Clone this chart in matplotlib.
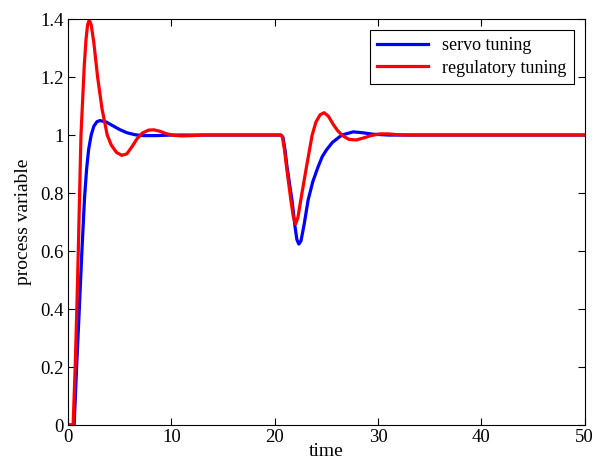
import matplotlib
matplotlib.use('Agg')
import matplotlib.pyplot as plt

# servo tuning response
t_servo = [0, 0.6, 0.84, 1.1, 1.35, 1.6, 1.8, 2.0, 2.25, 2.5, 2.8, 3.1, 3.7, 4.3, 5.0,
           5.7, 6.5, 7.3, 8.5, 10, 20.6, 20.8, 21.0, 21.2, 21.45, 21.7, 21.95, 22.15,
           22.34, 22.55, 22.86, 23.24, 23.7, 24.2, 24.6, 25.0, 25.6, 26.5, 27.6, 28.5,
           29.5, 31, 50]
y_servo = [0, 0, 0.2, 0.4, 0.6, 0.78, 0.88, 0.95, 1.0, 1.03, 1.046, 1.05, 1.045, 1.033, 1.019,
           1.008, 1.001, 0.998, 0.998, 1.0, 1.0, 0.993, 0.95, 0.89, 0.83, 0.77, 0.69, 0.64,
           0.624, 0.635, 0.693, 0.776, 0.84, 0.89, 0.925, 0.948, 0.975, 1.0, 1.011, 1.008,
           1.003, 1.0, 1.0]

# regulatory tuning response
t_reg = [0, 0.5, 0.7, 0.86, 1.0, 1.13, 1.26, 1.42, 1.58, 1.75, 1.9, 2.06, 2.25, 2.5,
         2.87, 3.3, 3.8, 4.2, 4.7, 5.2, 5.7, 6.2, 6.7, 7.2, 7.8, 8.3, 8.9, 9.5, 10.2,
         11, 12, 13,
         20.6, 20.75, 20.95, 21.15, 21.57, 21.8, 22.02, 22.25, 22.53, 23.08, 23.63,
         24.0, 24.4, 24.79, 25.2, 25.7, 26.1, 26.6, 27.2, 27.9, 28.6, 29.3, 30.2,
         31.0, 32.0, 33, 50]
y_reg = [0, 0, 0.2, 0.4, 0.6, 0.8, 1.0, 1.12, 1.24, 1.33, 1.38, 1.397, 1.38, 1.32,
         1.2, 1.09, 1.0, 0.965, 0.94, 0.93, 0.935, 0.96, 0.988, 1.007, 1.017, 1.018, 1.013, 1.005, 0.999,
         0.997, 0.998, 1.0,
         1.0, 0.993, 0.95, 0.89, 0.776, 0.72, 0.693, 0.715, 0.776, 0.89, 1.0,
         1.045, 1.07, 1.077, 1.065, 1.035, 1.015, 0.997, 0.985, 0.983, 0.99, 0.998, 1.004,
         1.004, 1.001, 1.0, 1.0]

plt.rcParams['font.family'] = ['Liberation Serif', 'DejaVu Serif']

fig = plt.figure(figsize=(5.96, 4.65), dpi=100)
ax = fig.add_axes([0.114, 0.086, 0.867, 0.873])
ax.plot(t_servo, y_servo, color='#0000ff', lw=2.3, label='servo tuning')
ax.plot(t_reg, y_reg, color='#ff0000', lw=2.3, label='regulatory tuning')

ax.set_xlim(0, 50)
ax.set_ylim(0, 1.4)
ax.set_xticks([0, 10, 20, 30, 40, 50])
ax.set_yticks([0, 0.2, 0.4, 0.6, 0.8, 1.0, 1.2, 1.4])
ax.set_yticklabels(['0', '0.2', '0.4', '0.6', '0.8', '1', '1.2', '1.4'])
ax.tick_params(direction='in', top=True, right=True, length=5, width=0.8,
               labelsize=13.5, pad=3)
for s in ax.spines.values():
    s.set_linewidth(0.8)

ax.set_xlabel('time', fontsize=14, labelpad=-2)
ax.set_ylabel('process variable', fontsize=14, labelpad=6)

leg = ax.legend(loc='upper right', fontsize=13, fancybox=False, framealpha=1,
                edgecolor='black', borderaxespad=0.6, handlelength=2.8,
                borderpad=0.4, labelspacing=0.3)
leg.get_frame().set_linewidth(0.8)

fig.savefig('out.png', dpi=100)
